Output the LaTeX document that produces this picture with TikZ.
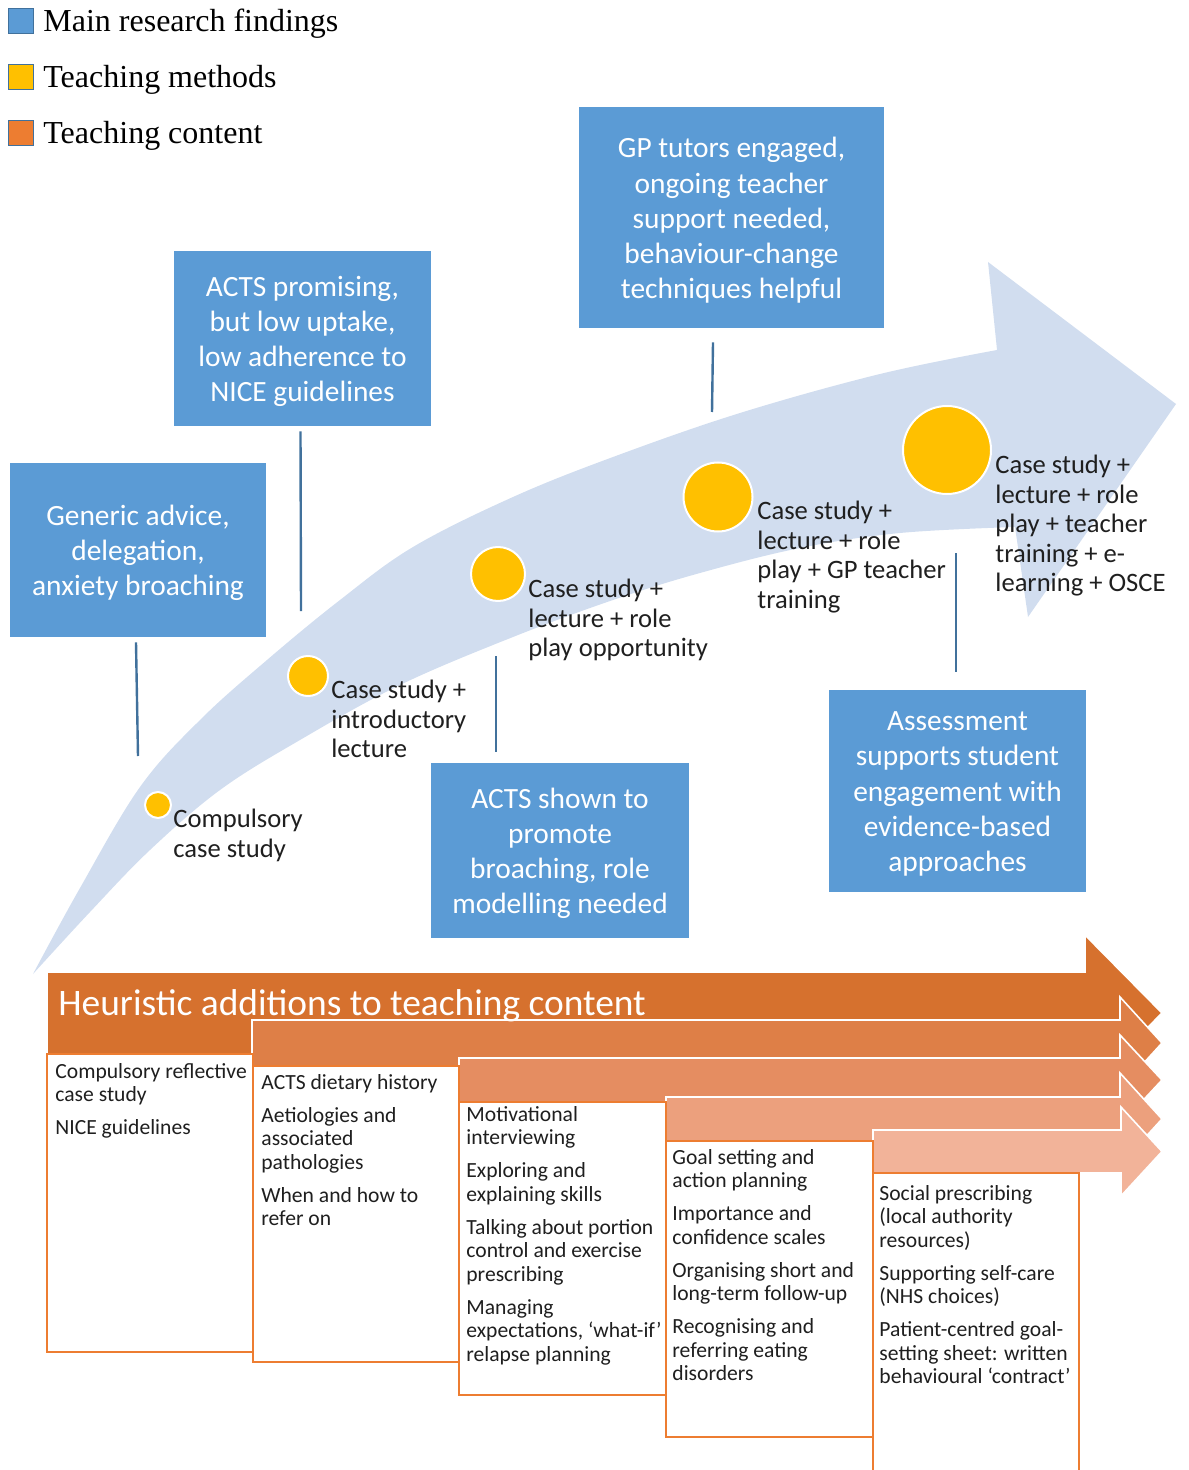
\documentclass[tikz,border=0pt]{standalone}
\usepackage{fontspec}
\setmainfont{Carlito}
\newfontfamily\legendfont{Liberation Serif}
\definecolor{boxblue}{RGB}{91,155,213}
\definecolor{linkblue}{RGB}{65,113,156}
\definecolor{flowblue}{RGB}{209,221,239}
\definecolor{methodyellow}{RGB}{255,192,0}
\definecolor{contentorange}{RGB}{237,125,49}
\definecolor{arrA}{RGB}{214,113,46}
\definecolor{arrB}{RGB}{222,127,71}
\definecolor{arrC}{RGB}{229,141,97}
\definecolor{arrD}{RGB}{236,160,125}
\definecolor{arrE}{RGB}{242,179,153}
\begin{document}
\begin{tikzpicture}[x=0.5pt,y=-0.5pt,
  finding/.style={fill=boxblue, inner sep=0pt},
  findtext/.style={text=white, align=center, inner sep=0pt,
    font=\fontsize{14.7}{17.6}\selectfont},
  method/.style={circle, fill=methodyellow, draw=white, line width=1pt, inner sep=0pt},
  mlabel/.style={anchor=north west, align=left, inner sep=0pt, text=black!88,
    font=\fontsize{13.3}{14.75}\selectfont},
  link/.style={draw=linkblue, line width=1.2pt},
  ctext/.style={anchor=north west, align=left, inner sep=0pt, text=black!88,
    font=\fontsize{10.8}{11.75}\selectfont},
  cbox/.style={draw=contentorange, line width=1.2pt, fill=white},
  harrow/.style={draw=white, line width=0.8pt},
  legsq/.style={draw=linkblue, line width=0.9pt, minimum size=12.5pt, inner sep=0pt},
  legtext/.style={anchor=base west, inner sep=0pt, font=\legendfont\fontsize{16}{19}\selectfont},
]
\useasboundingbox (0,0) rectangle (1188,1470);

% big curved arrow
\fill[flowblue] plot[smooth, tension=0.6] coordinates {(33,974) (80,888) (140,787) (200,720) (267,660) (340,600) (413,547) (513,497) (613,457) (740,413) (880,374) (997,350)}
  -- (988,262) -- (1176,404) -- (1028,617) -- (1015,527)
  -- plot[smooth, tension=0.6] coordinates {(1015,527) (900,533) (800,548) (700,573) (613,600) (513,637) (400,685) (300,740) (220,790) (150,850) (90,912) (33,974)} -- cycle;

% findings
\node[finding, minimum width=128pt, minimum height=87pt] (A) at (138,550) {};
\node[finding, minimum width=128.5pt, minimum height=87.5pt] (B) at (302.5,338.5) {};
\node[finding, minimum width=152.5pt, minimum height=110.5pt] (C) at (731.5,217.5) {};
\node[finding, minimum width=129pt, minimum height=87.5pt] (D) at (560,850.5) {};
\node[finding, minimum width=128.5pt, minimum height=101pt] (E) at (957.5,791) {};
\node[findtext] (At) at ([yshift=-1.5pt]A.center) {Generic advice,\\delegation,\\anxiety broaching};
\node[findtext] (Bt) at ([yshift=-1.5pt]B.center) {ACTS promising,\\but low uptake,\\low adherence to\\NICE guidelines};
\node[findtext] (Ct) at ([yshift=-1.5pt]C.center) {GP tutors engaged,\\ongoing teacher\\support needed,\\behaviour-change\\techniques helpful};
\node[findtext] (Dt) at ([yshift=-1.5pt]D.center) {ACTS shown to\\promote\\broaching, role\\modelling needed};
\node[findtext] (Et) at ([yshift=-1.5pt]E.center) {Assessment\\supports student\\engagement with\\evidence-based\\approaches};

\coordinate (aend) at (138,756);
\coordinate (bend) at (301,611);
\coordinate (cend) at (712,412);
\coordinate (dend) at (496,656);
\coordinate (eend) at (956,553);
\draw[link] ([xshift=-1pt,yshift=-2.5pt]A.south) -- (aend);
\draw[link] ([xshift=-1pt,yshift=-2.5pt]B.south) -- (bend);
\draw[link] ([xshift=-9.25pt,yshift=-7pt]C.south) -- (cend);
\draw[link] ([xshift=-32pt,yshift=5.5pt]D.north) -- (dend);
\draw[link] ([xshift=-0.75pt,yshift=9pt]E.north) -- (eend);

% teaching methods
\node[method, minimum size=13pt] (m1) at (158,805) {};
\node[method, minimum size=20pt] (m2) at (308,676) {};
\node[method, minimum size=27pt] (m3) at (498,574) {};
\node[method, minimum size=34.5pt] (m4) at (718,497) {};
\node[method, minimum size=44pt] (m5) at (947,450) {};
\node[mlabel] (l1) at (173,809) {Compulsory\\case study};
\node[mlabel] (l2) at (331,680) {Case study +\\introductory\\lecture};
\node[mlabel] (l3) at (528,579) {Case study +\\lecture + role\\play opportunity};
\node[mlabel] (l4) at (757,501) {Case study +\\lecture + role\\play + GP teacher\\training};
\node[mlabel] (l5) at (995,455) {Case study +\\lecture + role\\play + teacher\\training + e-\\learning + OSCE};

% legend
\node[legsq, fill=boxblue] (k1) at (21,21) {};
\node[legsq, fill=methodyellow] (k2) at (21,77) {};
\node[legsq, fill=contentorange] (k3) at (21,133) {};
\node[legtext] (t1) at (43,32) {Main research findings};
\node[legtext] (t2) at (43,88) {Teaching methods};
\node[legtext] (t3) at (43,144) {Teaching content};

% heuristic arrows
\filldraw[harrow, fill=arrA] (47,972) -- (1085,972) -- (1085,935) -- (1162,1013) -- (1085,1091) -- (1085,1054) -- (47,1054) -- cycle;
\filldraw[harrow, fill=arrB] (252,1020) -- (1120,1020) -- (1120,997) -- (1162,1043) -- (1120,1089) -- (1120,1066) -- (252,1066) -- cycle;
\filldraw[harrow, fill=arrC] (459,1058) -- (1120,1058) -- (1120,1035) -- (1162,1080) -- (1120,1125) -- (1120,1102) -- (459,1102) -- cycle;
\filldraw[harrow, fill=arrD] (666,1097) -- (1120,1097) -- (1120,1073) -- (1162,1119) -- (1120,1165) -- (1120,1141) -- (666,1141) -- cycle;
\filldraw[harrow, fill=arrE] (873,1130) -- (1121,1130) -- (1121,1107) -- (1162,1151.5) -- (1121,1196) -- (1121,1173) -- (873,1173) -- cycle;

% content boxes
\draw[cbox] (47,1054) rectangle (253,1352);
\draw[cbox] (253,1066) rectangle (459,1362);
\draw[cbox] (459,1102) rectangle (666,1395);
\draw[cbox] (666,1141) rectangle (873,1437);
\draw[cbox] (873,1173) rectangle (1079,1480);

\node[ctext] (c1) at (55,1063) {Compulsory reflective\\case study\\[4.75pt]NICE guidelines};
\node[ctext] (c2) at (261,1074) {ACTS dietary history\\[4.75pt]Aetiologies and\\associated\\pathologies\\[4.75pt]When and how to\\refer on};
\node[ctext] (c3) at (466,1106) {Motivational\\interviewing\\[4.75pt]Exploring and\\explaining skills\\[4.75pt]Talking about portion\\control and exercise\\prescribing\\[4.75pt]Managing\\expectations, ‘what-if’\\relapse planning};
\node[ctext] (c4) at (672,1149) {Goal setting and\\action planning\\[4.75pt]Importance and\\confidence scales\\[4.75pt]Organising short and\\long-term follow-up\\[4.75pt]Recognising and\\referring eating\\disorders};
\node[ctext] (c5) at (879,1185) {Social prescribing\\(local authority\\resources)\\[4.75pt]Supporting self-care\\(NHS choices)\\[4.75pt]Patient-centred goal-\\setting sheet: written\\behavioural ‘contract’};

\node[anchor=base west, inner sep=0pt, text=white, font=\fontsize{18.7}{22}\selectfont] (title) at (58,1015) {Heuristic additions to teaching content};
\end{tikzpicture}
\end{document}
